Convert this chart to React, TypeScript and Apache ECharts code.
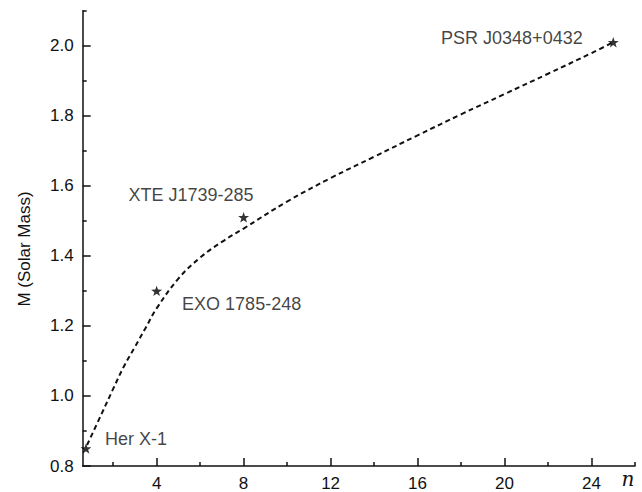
import React, { useEffect, useRef } from "react";
import * as echarts from "echarts";

// Dashed fit curve (n, M)
const curveN = [0.8, 1.5, 2, 2.5, 3, 3.5, 4, 5, 6, 7, 8, 10, 12, 14, 16, 18, 20, 22, 24, 25];
const curveM = [0.86, 0.953, 1.02, 1.085, 1.14, 1.195, 1.25, 1.335, 1.395, 1.44, 1.478, 1.555, 1.622, 1.683, 1.744, 1.804, 1.862, 1.92, 1.979, 2.01];

// Observed stars
const starNames = ["Her X-1", "EXO 1785-248", "XTE J1739-285", "PSR J0348+0432"];
const starN = [0.75, 4, 8, 25];
const starM = [0.85, 1.3, 1.51, 2.01];
const labelOffsets: [number, number][] = [
  [50, -9],
  [85, 12.7],
  [-52.6, -22.7],
  [-101.4, -4],
];

const xMajorTicks = [4, 8, 12, 16, 20, 24];
const xMinorTicks = [2, 6, 10, 14, 18, 22, 26];
const yMajorTicks = [0.8, 1.0, 1.2, 1.4, 1.6, 1.8, 2.0];
const yMinorTicks = [0.9, 1.1, 1.3, 1.5, 1.7, 1.9, 2.1];

const STAR =
  "path://M0,-10 L2.35,-3.24 L9.51,-3.09 L3.8,1.24 L5.88,8.09 L0,4 L-5.88,8.09 L-3.8,1.24 L-9.51,-3.09 L-2.35,-3.24 Z";

const FONT = "Liberation Sans, Arial, sans-serif";
const INK = "#111111";

export default function App() {
  const ref = useRef<HTMLDivElement>(null);
  useEffect(() => {
    if (!ref.current) return;
    const chart = echarts.init(ref.current, null, { renderer: "svg" });
    const axisLine = { show: true, lineStyle: { color: INK, width: 1.5 } };
    const xBase = { type: "value", min: 0.6, max: 26, gridIndex: 0 } as any;
    const yBase = { type: "value", min: 0.8, max: 2.1, gridIndex: 0 } as any;
    chart.setOption({
      animation: false,
      backgroundColor: "#ffffff",
      grid: { left: 82.7, right: 7, top: 10.7, bottom: 24.3 },
      xAxis: [
        {
          ...xBase,
          position: "bottom",
          axisLine,
          splitLine: { show: false },
          axisTick: { show: true, inside: true, length: 8, lineStyle: { color: INK, width: 1.5 }, customValues: xMajorTicks },
          axisLabel: { show: true, customValues: xMajorTicks, margin: 9, color: INK, fontSize: 17, fontFamily: FONT },
        },
        {
          ...xBase,
          position: "bottom",
          axisLine: { show: false },
          splitLine: { show: false },
          axisTick: { show: true, inside: true, length: 4, lineStyle: { color: INK, width: 1.5 }, customValues: xMinorTicks },
          axisLabel: { show: false },
        },
      ],
      yAxis: [
        {
          ...yBase,
          position: "left",
          axisLine,
          splitLine: { show: false },
          axisTick: { show: true, inside: true, length: 8, lineStyle: { color: INK, width: 1.5 }, customValues: yMajorTicks },
          axisLabel: {
            show: true,
            customValues: yMajorTicks,
            margin: 9,
            color: INK,
            fontSize: 17,
            fontFamily: FONT,
            formatter: (v: number) => v.toFixed(1),
          },
        },
        {
          ...yBase,
          position: "left",
          axisLine: { show: false },
          splitLine: { show: false },
          axisTick: { show: true, inside: true, length: 4, lineStyle: { color: INK, width: 1.5 }, customValues: yMinorTicks },
          axisLabel: { show: false },
        },
      ],
      graphic: [
        {
          type: "text",
          x: 24,
          y: 249,
          rotation: Math.PI / 2,
          style: {
            text: "M (Solar Mass)",
            fill: INK,
            font: `17px ${FONT}`,
            align: "center",
            verticalAlign: "middle",
          },
        },
        {
          type: "text",
          x: 628,
          y: 479,
          style: {
            text: "n",
            fill: INK,
            font: `italic 20px "DejaVu Serif", "Liberation Serif", serif`,
            align: "center",
            verticalAlign: "middle",
          },
        },
      ],
      series: [
        {
          type: "line",
          xAxisIndex: 0,
          yAxisIndex: 0,
          smooth: 0.4,
          showSymbol: false,
          data: curveN.map((n, i) => [n, curveM[i]]),
          lineStyle: { color: INK, width: 2, type: [5, 3.5] },
          silent: true,
          z: 2,
        },
        {
          type: "scatter",
          xAxisIndex: 0,
          yAxisIndex: 0,
          symbol: STAR,
          symbolKeepAspect: true,
          symbolSize: 11,
          itemStyle: { color: "#000" },
          z: 3,
          data: starNames.map((name, i) => ({
            name,
            value: [starN[i], starM[i]],
            label: {
              show: true,
              position: "inside",
              offset: labelOffsets[i],
              formatter: name,
              color: INK,
              fontSize: 18,
              fontFamily: FONT,
            },
          })),
        },
      ],
    });
    return () => chart.dispose();
  }, []);
  return <div ref={ref} style={{ width: 642, height: 492, position: "absolute", left: 0, top: 0 }} />;
}
